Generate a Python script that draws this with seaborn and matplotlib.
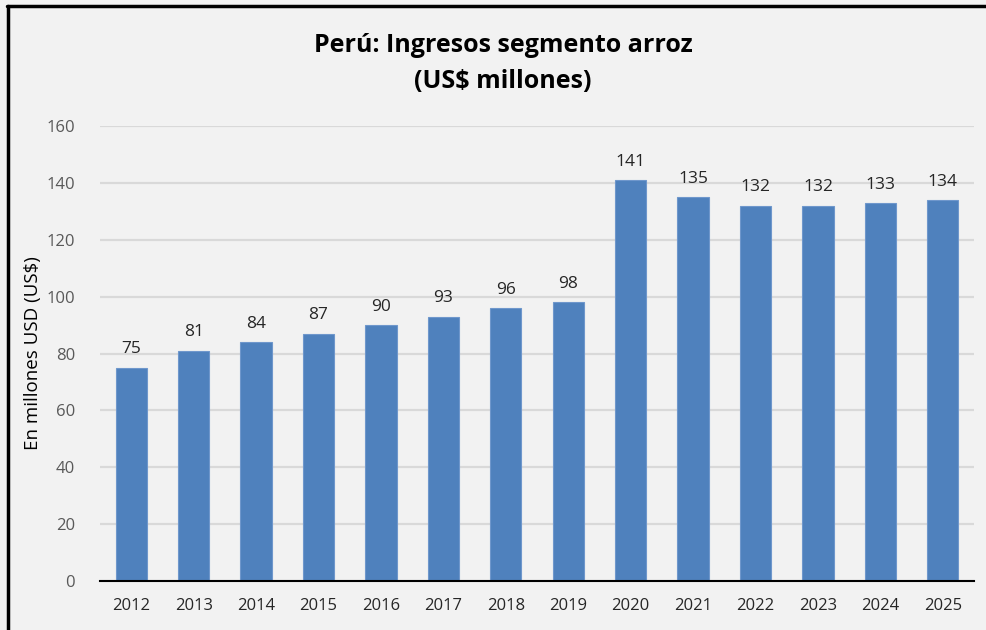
import matplotlib
matplotlib.use("Agg")
import matplotlib.pyplot as plt
import seaborn as sns
import pandas as pd
from matplotlib.lines import Line2D

years = ["2012", "2013", "2014", "2015", "2016", "2017", "2018", "2019",
         "2020", "2021", "2022", "2023", "2024", "2025"]
values = [75, 81, 84, 87, 90, 93, 96, 98, 141, 135, 132, 132, 133, 134]
yticks = [0, 20, 40, 60, 80, 100, 120, 140, 160]

df = pd.DataFrame({"year": years, "value": values})

sns.set_theme(style="white")
plt.rcParams["font.family"] = ["Open Sans", "DejaVu Sans"]

bg = "#f2f2f2"
fig = plt.figure(figsize=(9.87, 6.30), dpi=100, facecolor=bg)
ax = fig.add_axes([100/987, 1-581/630, (974-100)/987, (581-126)/630])
ax.set_facecolor(bg)

sns.barplot(data=df, x="year", y="value", color="#4f81bd", width=0.5,
            saturation=1, edgecolor="#6f97cc", linewidth=0.8, ax=ax, zorder=3)

ax.set_ylim(0, 160)
ax.set_xlim(-0.5, len(years) - 0.5)
ax.set_yticks(yticks)
ax.yaxis.grid(True, color="#d9d9d9", linewidth=1.6, zorder=0)
ax.set_axisbelow(True)
for s in ["top", "right", "left"]:
    ax.spines[s].set_visible(False)
ax.spines["bottom"].set_color("black")
ax.spines["bottom"].set_linewidth(1.5)
ax.spines["bottom"].set_zorder(5)

ax.tick_params(axis="y", length=0, labelsize=12, labelcolor="#595959", pad=18)
ax.tick_params(axis="x", length=0, labelsize=12, labelcolor="#262626", pad=12)
ax.set_xlabel("")
ax.set_ylabel("En millones USD (US$)", fontsize=13.5, color="black")
ax.yaxis.set_label_coords((42 - 100) / 874, (581 - 353) / 455)

for i, v in enumerate(values):
    ax.text(i, v + 3.6, f"{v}", ha="center", va="bottom", fontsize=12.5, color="#262626")

fig.text(503/987, 1-45/630, "Perú: Ingresos segmento arroz", ha="center", va="center",
         fontsize=18, fontweight="bold", color="black")
fig.text(503/987, 1-81/630, "(US$ millones)", ha="center", va="center",
         fontsize=18, fontweight="bold", color="black")

# frame lines (top and left)
fig.add_artist(Line2D([7/987, 1], [1-6/630, 1-6/630], color="black", linewidth=2.5,
                      transform=fig.transFigure))
fig.add_artist(Line2D([8/987, 8/987], [0, 1-6/630], color="black", linewidth=2.5,
                      transform=fig.transFigure))

fig.savefig("out.png", dpi=100, facecolor=bg)
